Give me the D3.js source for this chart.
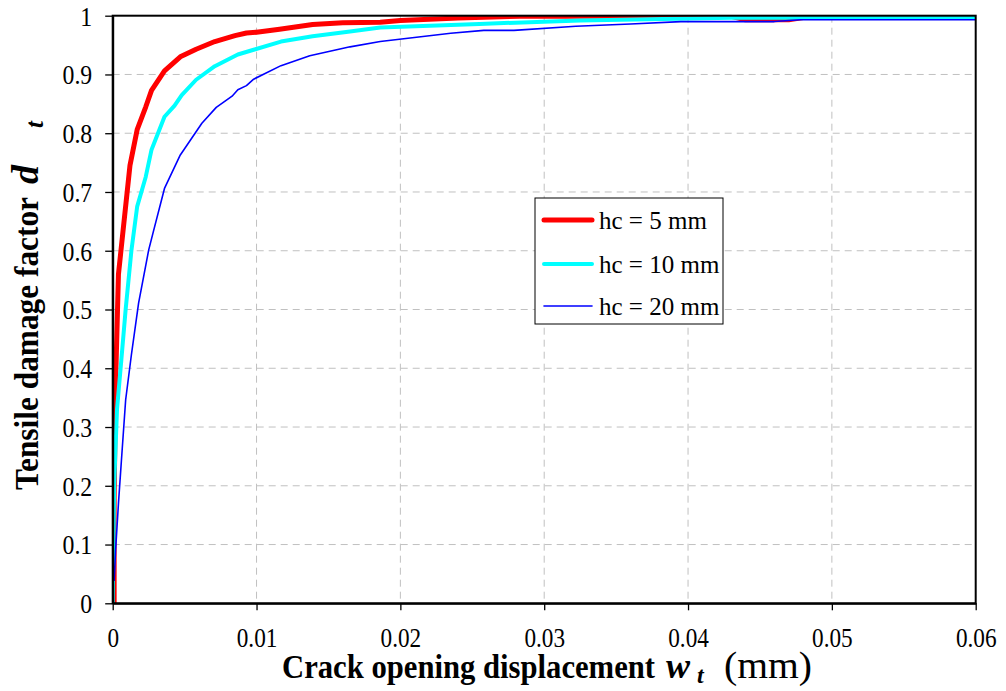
<!DOCTYPE html>
<html>
<head>
<meta charset="utf-8">
<script src="https://cdn.jsdelivr.net/npm/d3@7/dist/d3.min.js"></script>
<style>
  html, body { margin: 0; padding: 0; background: #fff; }
  svg { display: block; }
  svg text { font-family: "Liberation Serif", "Times New Roman", Times, serif; }
</style>
</head>
<body>
<svg id="chart" width="1006" height="691"></svg>
<script>
// Crack opening displacement w_t (mm) vs tensile damage factor d_t
const seriesNames = ["hc = 5 mm", "hc = 10 mm", "hc = 20 mm"];
const seriesColors = ["#ff0000", "#00ffff", "#0000ff"];
const seriesWidths = [5, 4, 1.6];

const hc5W = [0.0001, 0.0001, 0.0002, 0.0004, 0.0012, 0.0017, 0.0023, 0.0027, 0.0036, 0.0047, 0.0058, 0.0071, 0.0085, 0.0093, 0.0100, 0.0116, 0.0139, 0.0160, 0.0186, 0.0200, 0.0240, 0.0283, 0.0430, 0.0440, 0.0470, 0.0480, 0.0600];
const hc5D = [0.0, 0.18, 0.375, 0.56, 0.745, 0.806, 0.845, 0.873, 0.906, 0.930, 0.943, 0.956, 0.966, 0.9705, 0.972, 0.977, 0.985, 0.988, 0.989, 0.992, 0.996, 0.999, 0.999, 0.993, 0.993, 0.997, 0.997];

const hc10W = [0.0, 0.0001, 0.0003, 0.0006, 0.0009, 0.0013, 0.0017, 0.0023, 0.0027, 0.0036, 0.0043, 0.0048, 0.0058, 0.0071, 0.0087, 0.0098, 0.0117, 0.0139, 0.0165, 0.0186, 0.0255, 0.0325, 0.0430, 0.0600];
const hc10D = [0.0, 0.2, 0.33, 0.414, 0.5, 0.6, 0.675, 0.726, 0.772, 0.828, 0.847, 0.865, 0.891, 0.914, 0.934, 0.942, 0.956, 0.965, 0.973, 0.980, 0.986, 0.992, 0.9966, 0.9966];

const hc20W = [0.0001, 0.0002, 0.0004, 0.0006, 0.0009, 0.0013, 0.0018, 0.0025, 0.0028, 0.0036, 0.0047, 0.0062, 0.0072, 0.0083, 0.0087, 0.0093, 0.0098, 0.0117, 0.0137, 0.0165, 0.0186, 0.0235, 0.0258, 0.0279, 0.0322, 0.0360, 0.0395, 0.0460, 0.0478, 0.0600];
const hc20D = [0.038, 0.09, 0.17, 0.241, 0.346, 0.423, 0.511, 0.601, 0.630, 0.706, 0.763, 0.817, 0.844, 0.863, 0.874, 0.881, 0.892, 0.915, 0.932, 0.947, 0.956, 0.970, 0.975, 0.975, 0.982, 0.986, 0.990, 0.990, 0.993, 0.993];

const xTickValues = [0, 0.01, 0.02, 0.03, 0.04, 0.05, 0.06];
const xTickLabels = ["0", "0.01", "0.02", "0.03", "0.04", "0.05", "0.06"];
const yTickValues = [0, 0.1, 0.2, 0.3, 0.4, 0.5, 0.6, 0.7, 0.8, 0.9, 1];
const yTickLabels = ["0", "0.1", "0.2", "0.3", "0.4", "0.5", "0.6", "0.7", "0.8", "0.9", "1"];

const series = [
  { name: seriesNames[0], w: hc5W, d: hc5D },
  { name: seriesNames[1], w: hc10W, d: hc10D },
  { name: seriesNames[2], w: hc20W, d: hc20D }
];

const serif = "'Liberation Serif', 'Times New Roman', Times, serif";
const plot = { left: 112.7, right: 975.7, top: 15.7, bottom: 603.3 };
const svg = d3.select("#chart");
svg.append("rect").attr("width", 1006).attr("height", 691).attr("fill", "#fff");

const x = d3.scaleLinear().domain([0, 0.06]).range([plot.left, plot.right]);
const y = d3.scaleLinear().domain([0, 1]).range([plot.bottom, plot.top]);

// squeeze a text element horizontally, like the narrow serif face of the original
function condense(sel, k) {
  sel.each(function () {
    const n = this.getComputedTextLength();
    d3.select(this).attr("textLength", n * k).attr("lengthAdjust", "spacingAndGlyphs");
  });
}

// dashed grid
const grid = svg.append("g").attr("stroke", "#c0c0c0").attr("stroke-width", 1).attr("stroke-dasharray", "7,5");
grid.selectAll("line.v").data(xTickValues.slice(1, -1)).join("line")
  .attr("x1", d => x(d)).attr("x2", d => x(d)).attr("y1", plot.top).attr("y2", plot.bottom);
grid.selectAll("line.h").data(yTickValues.slice(1, -1)).join("line")
  .attr("x1", plot.left).attr("x2", plot.right).attr("y1", d => y(d)).attr("y2", d => y(d));

// curves, clipped to the plot frame
svg.append("clipPath").attr("id", "plotClip").append("rect")
  .attr("x", plot.left).attr("y", plot.top)
  .attr("width", plot.right - plot.left).attr("height", plot.bottom - plot.top);

const line = d3.line().x(p => x(p[0])).y(p => y(p[1]));
const curves = svg.append("g").attr("clip-path", "url(#plotClip)");
series.forEach((s, i) => {
  const pts = s.w.map((w, j) => [w, s.d[j]]);
  curves.append("path").datum(pts)
    .attr("fill", "none")
    .attr("stroke", seriesColors[i])
    .attr("stroke-width", seriesWidths[i])
    .attr("stroke-linejoin", "round")
    .attr("d", line);
});

// frame: top and right borders
svg.append("rect")
  .attr("x", plot.left).attr("y", plot.top)
  .attr("width", plot.right - plot.left).attr("height", plot.bottom - plot.top)
  .attr("fill", "none").attr("stroke", "#000").attr("stroke-width", 2);

// axes
const xAxis = svg.append("g").attr("transform", `translate(0,${plot.bottom})`)
  .call(d3.axisBottom(x).tickValues(xTickValues).tickFormat((d, i) => xTickLabels[i]).tickSize(7).tickSizeOuter(0).tickPadding(18));
const yAxis = svg.append("g").attr("transform", `translate(${plot.left},0)`)
  .call(d3.axisLeft(y).tickValues(yTickValues).tickFormat((d, i) => yTickLabels[i]).tickSize(7.5).tickSizeOuter(0).tickPadding(13));

[xAxis, yAxis].forEach(a => {
  a.attr("font-family", serif);
  a.select(".domain").attr("stroke", "#000").attr("stroke-width", 2);
  a.selectAll(".tick line").attr("stroke", "#000").attr("stroke-width", 1.3);
  a.selectAll(".tick text").style("font-family", serif).attr("font-size", 27).attr("fill", "#000");
});
yAxis.selectAll(".tick text").attr("dy", "0.35em");
condense(xAxis.selectAll(".tick text"), 0.86);
condense(yAxis.selectAll(".tick text"), 0.88);

// x-axis title
const xt = svg.append("text").attr("y", 678).attr("fill", "#000").style("font-family", serif);
xt.append("tspan").attr("x", 282).attr("font-weight", "bold").attr("font-size", 33)
  .attr("textLength", 373).attr("lengthAdjust", "spacingAndGlyphs").text("Crack opening displacement");
xt.append("tspan").attr("x", 666).attr("font-weight", "bold").attr("font-style", "italic").attr("font-size", 36).text("w");
xt.append("tspan").attr("x", 697).attr("dy", 5).attr("font-weight", "bold").attr("font-style", "italic").attr("font-size", 24).text("t");
xt.append("tspan").attr("x", 724).attr("dy", -5).attr("font-size", 38)
  .attr("textLength", 88).attr("lengthAdjust", "spacingAndGlyphs").text("(mm)");

// y-axis title
const yt = svg.append("text").attr("transform", "translate(38,0) rotate(-90)").attr("fill", "#000").style("font-family", serif);
yt.append("tspan").attr("x", -490).attr("font-weight", "bold").attr("font-size", 33)
  .attr("textLength", 293).attr("lengthAdjust", "spacingAndGlyphs").text("Tensile damage factor");
yt.append("tspan").attr("x", -184).attr("font-weight", "bold").attr("font-style", "italic").attr("font-size", 38).text("d");
yt.append("tspan").attr("x", -128).attr("dy", 5).attr("font-weight", "bold").attr("font-style", "italic").attr("font-size", 25).text("t");

// legend
const legend = svg.append("g");
legend.append("rect").attr("x", 535).attr("y", 198).attr("width", 188).attr("height", 126)
  .attr("fill", "#fff").attr("stroke", "#000").attr("stroke-width", 1);
const rowsY = [220, 264, 306];
series.forEach((s, i) => {
  legend.append("line").attr("x1", 544).attr("x2", 592).attr("y1", rowsY[i]).attr("y2", rowsY[i])
    .attr("stroke", seriesColors[i]).attr("stroke-width", seriesWidths[i]).attr("stroke-linecap", "round");
  legend.append("text").attr("x", 599).attr("y", rowsY[i] + 9).style("font-family", serif)
    .attr("font-size", 25).attr("fill", "#000").text(s.name);
});
</script>
</body>
</html>
